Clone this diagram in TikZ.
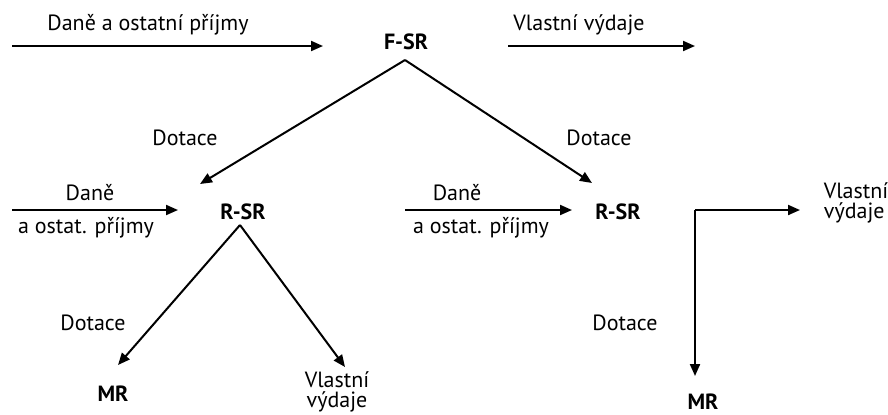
\documentclass[tikz,border=0pt]{standalone}
\usepackage{fontspec}
\setmainfont{PT Sans}
\usetikzlibrary{arrows.meta}

\tikzset{
  lbl/.style={inner sep=0pt, font=\fontsize{11}{10}\selectfont},
  lvl/.style={lbl, font=\fontsize{11}{10}\selectfont\bfseries},
  flow/.style={line width=1pt, -{Triangle[length=6pt,width=5pt]}}
}

\begin{document}
\begin{tikzpicture}[x=0.5pt,y=-0.5pt]
    \useasboundingbox (0,0) rectangle (888,414);

    % levels
    \node[lvl] (fsr) at (406,42) {F-SR};
    \node[lvl] (rsrl) at (243,212) {R-SR};
    \node[lvl] (rsrr) at (618,212) {R-SR};
    \node[lvl] (mrl) at (113,394) {MR};
    \node[lvl] (mrr) at (703,402) {MR};
    \node[lbl, align=center] (vvl) at (337,392) {Vlastní\\výdaje};
    \node[lbl, align=left] (vvr) at (856,203) {Vlastní\\výdaje};

    % arrow ends
    \coordinate (inF) at (12,46);
    \coordinate (toF) at (323,46);
    \coordinate (outF) at (508,46);
    \coordinate (endF) at (695,46);
    \coordinate (topF) at (405,60);
    \coordinate (tipL) at (200,184);
    \coordinate (tipR) at (592,183);
    \coordinate (inL) at (12,210);
    \coordinate (toL) at (178,210);
    \coordinate (inR) at (405,210);
    \coordinate (toR) at (572,210);
    \coordinate (topL) at (240,225);
    \coordinate (tipML) at (118,365);
    \coordinate (tipVL) at (345,367);
    \coordinate (corner) at (695,210);
    \coordinate (tipVR) at (800,210);
    \coordinate (tipMR) at (695,376);

    \draw[flow] (inF) -- (toF);
    \draw[flow] (outF) -- (endF);
    \draw[flow] (topF) -- (tipL);
    \draw[flow] (topF) -- (tipR);
    \draw[flow] (inL) -- (toL);
    \draw[flow] (inR) -- (toR);
    \draw[flow] (topL) -- (tipML);
    \draw[flow] (topL) -- (tipVL);
    \draw[flow] (corner) -- (tipVR);
    \draw[flow] (corner) -- (tipMR);

    % labels
    \node[lbl] (danF) at (148,25) {Daně a ostatní příjmy};
    \node[lbl] (vvF) at (579,25) {Vlastní výdaje};
    \node[lbl] (dotL) at (185,138) {Dotace};
    \node[lbl] (dotR) at (599,138) {Dotace};
    \node[lbl] (danL) at (90,193) {Daně};
    \node[lbl] (ostL) at (86,228) {a ostat. příjmy};
    \node[lbl] (danR) at (457,193) {Daně};
    \node[lbl] (ostR) at (481,228) {a ostat. příjmy};
    \node[lbl] (dotML) at (93,323) {Dotace};
    \node[lbl] (dotMR) at (625,323) {Dotace};
\end{tikzpicture}
\end{document}
